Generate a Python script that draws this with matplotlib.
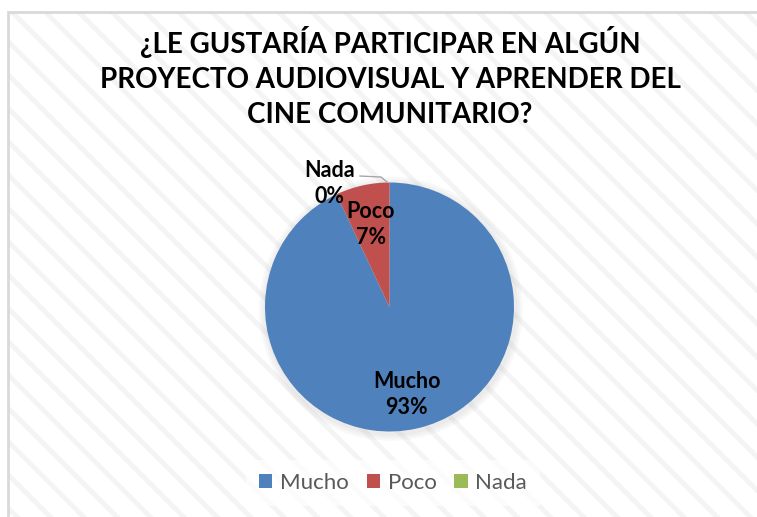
import matplotlib.pyplot as plt
from matplotlib.patches import Rectangle, Circle, Patch

plt.rcParams['font.family'] = ['Lato', 'DejaVu Sans']
plt.rcParams['hatch.linewidth'] = 3.5

# data
categories = ["Mucho", "Poco", "Nada"]
values = [93, 7, 0]
pct_labels = ["93%", "7%", "0%"]
colors = ["#4F81BD", "#C0504D", "#9BBB59"]
title = "¿LE GUSTARÍA PARTICIPAR EN ALGÚN\nPROYECTO AUDIOVISUAL Y APRENDER DEL\nCINE COMUNITARIO?"

W, H = 757, 517
fig = plt.figure(figsize=(W / 100, H / 100), dpi=100)
fig.patch.set_facecolor("white")

# chart area with faint diagonal stripes
bg = Rectangle((8 / W, -0.05), 1.1, 1 - 12 / H + 0.05, transform=fig.transFigure,
               facecolor="white", edgecolor="#f4f4f4", hatch="\\", linewidth=0, zorder=-2)
fig.patches.append(bg)
border = Rectangle((8 / W, -0.05), 1.1, 1 - 12 / H + 0.05, transform=fig.transFigure,
                   facecolor="none", edgecolor="#d9d9d9", linewidth=2, zorder=-1)
fig.patches.append(border)

fig.text(390 / W, 1 - 77 / H, title, ha="center", va="center", fontsize=20,
         fontweight="bold", color="black", linespacing=1.45)

# pie axes
cx, cy, r = 389.5, 307, 124.5
ax = fig.add_axes([(cx - r) / W, (H - cy - r) / H, 2 * r / W, 2 * r / H])

# soft shadow
for k in range(3):
    ax.add_patch(Circle((0.01, -0.015), 1.0 + 0.02 * (k + 1), color="gray", alpha=0.05,
                        lw=0, zorder=0, clip_on=False))

ax.pie(values, colors=colors, startangle=90, counterclock=False, radius=1,
       wedgeprops=dict(linewidth=0), frame=True)
ax.set_xlim(-1, 1)
ax.set_ylim(-1, 1)
ax.axis("off")

label_pos = [(0.14, -0.70), (-0.15, 0.66), (-0.48, 0.99)]
for cat, pct, (x, y) in zip(categories, pct_labels, label_pos):
    ax.text(x, y, f"{cat}\n{pct}", ha="center", va="center", fontsize=15.5,
            fontweight="bold", color="black", linespacing=1.3, clip_on=False, zorder=5)

# leader line for Nada
ax.plot([-0.237, -0.068, -0.02], [1.052, 1.044, 1.004], color="#a6a6a6", lw=1,
        clip_on=False, zorder=4)

handles = [Patch(facecolor=c, edgecolor="none") for c in colors]
leg = fig.legend(handles, categories, loc="center", bbox_to_anchor=(393 / W, 1 - 483 / H),
                 ncol=3, fontsize=16, frameon=True, handlelength=0.6, handleheight=0.6,
                 handletextpad=0.35, columnspacing=0.8, borderpad=0.6)
leg.get_frame().set_facecolor("white")
leg.get_frame().set_alpha(0.7)
leg.get_frame().set_edgecolor("none")
leg.get_frame().set_boxstyle("square", pad=0)
for t in leg.get_texts():
    t.set_color("#595959")

fig.savefig("out.png", dpi=100)
